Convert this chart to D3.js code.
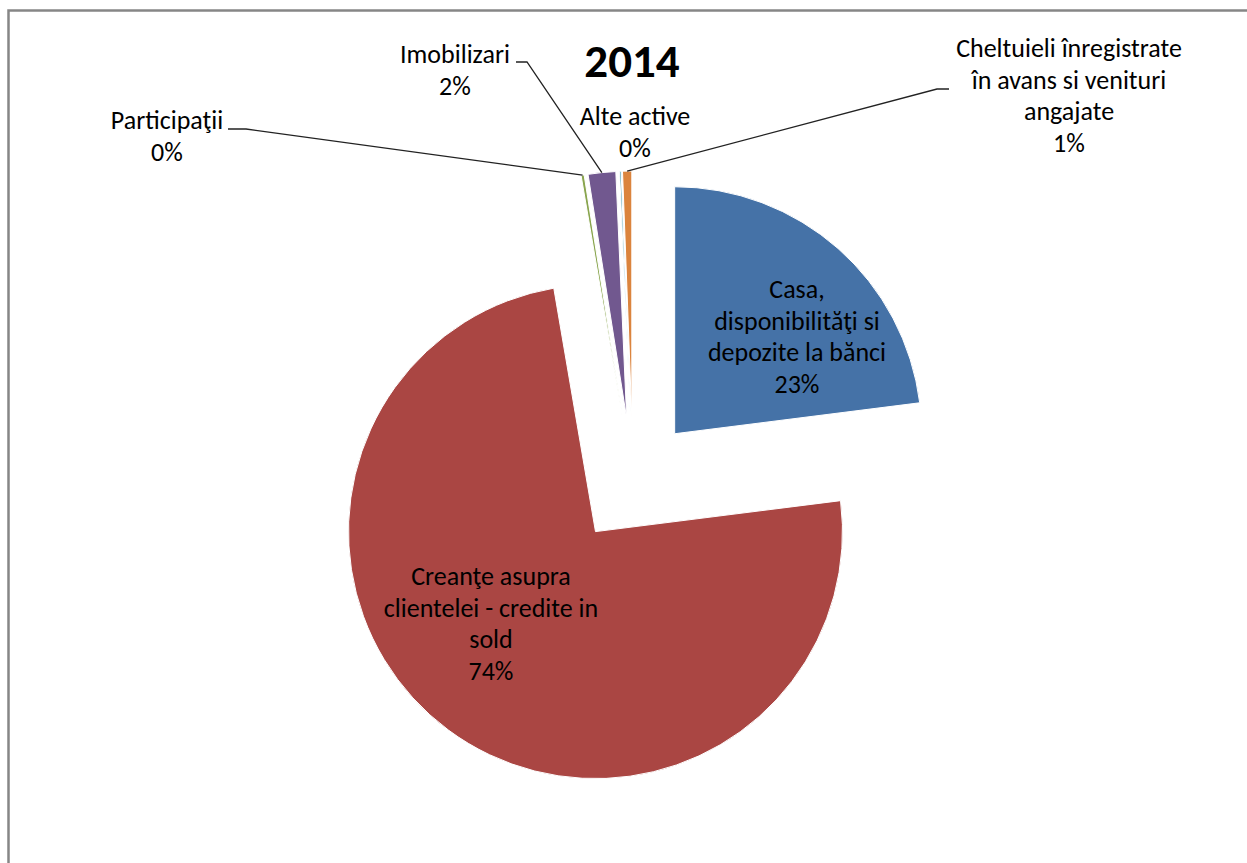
<!DOCTYPE html>
<html>
<head>
<meta charset="utf-8">
<script src="https://cdn.jsdelivr.net/npm/d3@7"></script>
<style>
  body { margin: 0; background: #fff; }
  svg { display: block; }
  text { font-family: Carlito, Calibri, Lato, sans-serif; fill: #000; }
</style>
</head>
<body>
<svg id="chart" width="1247" height="863"></svg>
<script>
// data
var categories = [
  "Casa, disponibilităţi si depozite la bănci",
  "Creanţe asupra clientelei - credite in sold",
  "Participaţii",
  "Imobilizari",
  "Alte active",
  "Cheltuieli înregistrate în avans si venituri angajate"
];
var values = [23.0, 74.3, 0.2, 1.8, 0.1, 0.6];
var colors = ["#4572A7", "#AA4643", "#89A54E", "#71588F", "#4198AF", "#DB843D"];
// how each label is broken into lines
var labelLines = [
  ["Casa,", "disponibilităţi si", "depozite la bănci"],
  ["Creanţe asupra", "clientelei - credite in", "sold"],
  ["Participaţii"],
  ["Imobilizari"],
  ["Alte active"],
  ["Cheltuieli înregistrate", "în avans si venituri", "angajate"]
];

// layout
var cx = 633, cy = 481, radius = 247, explode = 63, lineH = 31.5;
// label anchor: centre x, first baseline y, leader = side of the label where the leader line starts
var labelLayout = [
  {x: 797, y: 298},
  {x: 491, y: 585},
  {x: 167, y: 129, leader: [228, 129, 246]},
  {x: 455, y: 63, leader: [516, 62, 527]},
  {x: 635, y: 125},
  {x: 1069, y: 57, leader: [949, 89, 937]}
];

var svg = d3.select("#chart");

// chart area frame (only the top and left edges are inside the picture)
svg.append("rect")
  .attr("x", 8.5).attr("y", 10.5)
  .attr("width", 1300).attr("height", 900)
  .attr("fill", "none")
  .attr("stroke", "#868686")
  .attr("stroke-width", 2.5);

svg.append("text")
  .attr("x", 632).attr("y", 77)
  .attr("text-anchor", "middle")
  .style("font-size", "47px")
  .style("font-weight", "bold")
  .text("2014");

var total = d3.sum(values);
var pie = d3.pie().sort(null).value(function(d) { return d; });
var arcs = pie(values);
var arc = d3.arc().innerRadius(0).outerRadius(radius);

function offset(d, dist) {
  var a = (d.startAngle + d.endAngle) / 2;
  return [Math.sin(a) * dist, -Math.cos(a) * dist];
}

var g = svg.append("g").attr("transform", "translate(" + cx + "," + cy + ")");

g.selectAll("path.slice")
  .data(arcs)
  .enter().append("path")
  .attr("class", "slice")
  .attr("transform", function(d) {
    var o = offset(d, explode);
    return "translate(" + o[0] + "," + o[1] + ")";
  })
  .attr("d", arc)
  .attr("fill", function(d, i) { return colors[i]; })
  .attr("stroke", "#fff")
  .attr("stroke-width", 1);

// leader lines
arcs.forEach(function(d, i) {
  var L = labelLayout[i];
  if (!L.leader) return;
  var p = offset(d, radius + explode);
  var pts = [[L.leader[0], L.leader[1]], [L.leader[2], L.leader[1]], [cx + p[0], cy + p[1]]];
  svg.append("path")
    .attr("d", d3.line()(pts))
    .attr("fill", "none")
    .attr("stroke", "#222")
    .attr("stroke-width", 1.3);
});

// labels
arcs.forEach(function(d, i) {
  var L = labelLayout[i];
  var lines = labelLines[i].concat([Math.round(values[i] / total * 100) + "%"]);
  var t = svg.append("text")
    .attr("text-anchor", "middle")
    .style("font-size", "26px");
  lines.forEach(function(s, k) {
    t.append("tspan")
      .attr("x", L.x)
      .attr("y", L.y + k * lineH)
      .text(s);
  });
});
</script>
</body>
</html>
